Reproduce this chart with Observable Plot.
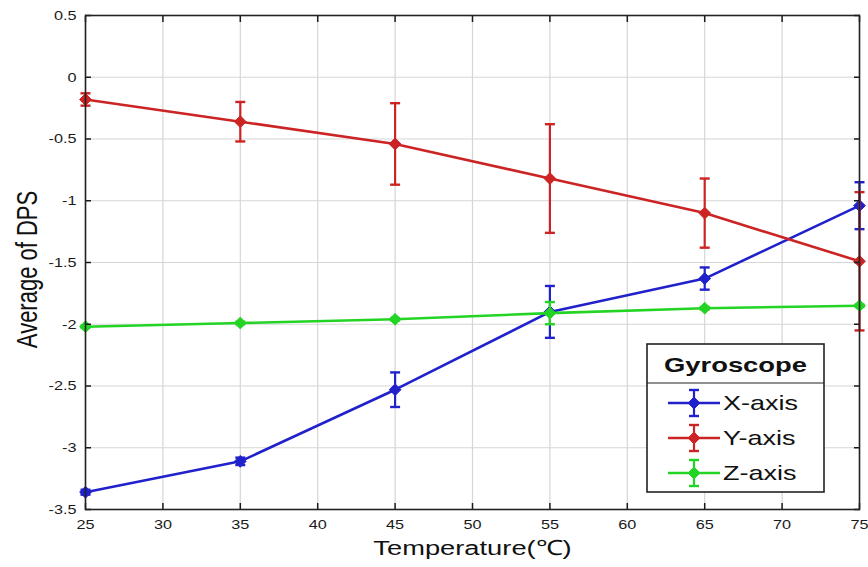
<!DOCTYPE html>
<html><head><meta charset="utf-8">
<script src="https://cdn.jsdelivr.net/npm/d3@7"></script>
<script src="https://cdn.jsdelivr.net/npm/@observablehq/plot@0.6"></script>
<style>
html,body{margin:0;padding:0;background:#fff;}
#wrap{position:relative;width:868px;height:567px;}
</style></head><body><div id="wrap"></div>
<script>
const temperatures = [25, 35, 45, 55, 65, 75];
const seriesNames = ["X-axis", "Y-axis", "Z-axis"];
const seriesColors = ["#2121cc", "#cc2424", "#24d424"];
const xMean = [-3.36, -3.11, -2.53, -1.90, -1.63, -1.04];
const xErr  = [0.02, 0.03, 0.14, 0.21, 0.09, 0.19];
const yMean = [-0.18, -0.36, -0.54, -0.82, -1.10, -1.49];
const yErr  = [0.05, 0.16, 0.33, 0.44, 0.28, 0.56];
const zMean = [-2.02, -1.99, -1.96, -1.91, -1.87, -1.85];
const zErr  = [0.01, 0.01, 0.01, 0.09, 0.01, 0.01];
const xTicks = [25, 30, 35, 40, 45, 50, 55, 60, 65, 70, 75];
const yTicks = [-3.5, -3, -2.5, -2, -1.5, -1, -0.5, 0, 0.5];
const xLabel = "Temperature(℃)";
const yLabel = "Average of DPS";
const legendTitle = "Gyroscope";

const means = [xMean, yMean, zMean];
const errs = [xErr, yErr, zErr];
const rows = seriesNames.flatMap((s, i) => temperatures.map((t, j) => ({
  series: s, t, mean: means[i][j], lo: means[i][j] - errs[i][j], hi: means[i][j] + errs[i][j]
})));

const capSymbol = {draw(ctx, size) { const r = Math.sqrt(size / Math.PI); ctx.moveTo(-r, 0); ctx.lineTo(r, 0); }};
const diamondSym = d3.symbolDiamond2 || d3.symbolDiamond;

const seriesMarks = seriesNames.flatMap((s, i) => {
  const d = rows.filter(r => r.series === s);
  const c = seriesColors[i];
  return [
    Plot.line(d, {x: "t", y: "mean", stroke: c, strokeWidth: 2.6}),
    Plot.ruleX(d, {x: "t", y1: "lo", y2: "hi", stroke: c, strokeWidth: 2.2}),
    Plot.dot(d, {x: "t", y: "lo", symbol: capSymbol, r: 5, stroke: c, fill: "none", strokeWidth: 2.4}),
    Plot.dot(d, {x: "t", y: "hi", symbol: capSymbol, r: 5, stroke: c, fill: "none", strokeWidth: 2.4}),
    Plot.dot(d, {x: "t", y: "mean", symbol: diamondSym, r: 5.3, fill: c, stroke: c, strokeWidth: 1})
  ];
});

const svg = Plot.plot({
  width: 868, height: 567,
  marginLeft: 85, marginRight: 9, marginTop: 15, marginBottom: 58,
  style: {background: "#fff", color: "#1a1a1a", fontFamily: "'Liberation Sans', Arial, sans-serif", fontSize: "12.5px"},
  x: {domain: [25, 75]},
  y: {domain: [-3.5, 0.5]},
  marks: [
    Plot.gridX(xTicks, {stroke: "#d6d6d6", strokeOpacity: 1, strokeWidth: 1.2}),
    Plot.gridY(yTicks, {stroke: "#d6d6d6", strokeOpacity: 1, strokeWidth: 1.2}),
    ...seriesMarks,
    Plot.axisX(xTicks, {anchor: "bottom", tickSize: -6, tickPadding: 16, tickFormat: d => String(d), label: null, strokeWidth: 1.5}),
    Plot.axisX(xTicks, {anchor: "top", tickSize: -6, tickFormat: () => "", label: null, strokeWidth: 1.5}),
    Plot.axisY(yTicks, {anchor: "left", tickSize: -6, tickPadding: 15, tickFormat: d => String(d), label: null, strokeWidth: 1.5}),
    Plot.axisY(yTicks, {anchor: "right", tickSize: -6, tickFormat: () => "", label: null, strokeWidth: 1.5}),
    Plot.frame({stroke: "#222", strokeWidth: 1.6}),
    Plot.text([xLabel], {text: d => d, frameAnchor: "bottom", dy: 39, textAnchor: "middle", lineAnchor: "middle", fontSize: 21, fill: "#111"}),
    Plot.text([yLabel], {text: d => d, frameAnchor: "left", dx: -58, dy: 7, rotate: -90, textAnchor: "middle", lineAnchor: "middle", fontSize: 22, fill: "#111"})
  ]
});

document.getElementById("wrap").appendChild(svg);

// the reference image is horizontally stretched; mimic it on the text,
// keeping each label's anchor point where the library placed it
d3.select(svg).selectAll("text").each(function() {
  if (!this.textContent) return;
  const t = this.getAttribute("transform") || "";
  const rotated = /rotate/.test(t);
  const anchor = rotated ? "middle" : getComputedStyle(this).textAnchor;
  const sc = rotated ? " scale(1,1.3)" : " scale(1.3,1)";
  const b0 = this.getBoundingClientRect();
  this.setAttribute("transform", t + sc);
  const b1 = this.getBoundingClientRect();
  let dx, dy = (b0.top + b0.bottom) / 2 - (b1.top + b1.bottom) / 2;
  if (anchor === "end") dx = b0.right - b1.right;
  else if (anchor === "start") dx = b0.left - b1.left;
  else dx = (b0.left + b0.right) / 2 - (b1.left + b1.right) / 2;
  this.setAttribute("transform", `translate(${dx},${dy}) ` + t + sc);
});

// legend
const g = d3.select(svg).append("g").attr("transform", "translate(647,344)")
  .attr("font-family", "'Liberation Sans', Arial, sans-serif");
g.append("rect").attr("x", 0).attr("y", 0).attr("width", 177).attr("height", 148)
  .attr("fill", "#fff").attr("stroke", "#222").attr("stroke-width", 1.6);
g.append("line").attr("x1", 0).attr("x2", 177).attr("y1", 39).attr("y2", 39)
  .attr("stroke", "#222").attr("stroke-width", 1.2);
g.append("text").attr("transform", "translate(88.5,21) scale(1.37,1)")
  .attr("text-anchor", "middle").attr("dy", "0.35em")
  .attr("font-weight", "bold").attr("font-size", 20).attr("fill", "#111").text(legendTitle);
seriesNames.forEach((s, i) => {
  const cy = 59 + 35 * i, c = seriesColors[i];
  const e = g.append("g").attr("transform", `translate(0,${cy})`);
  e.append("line").attr("x1", 21).attr("x2", 73).attr("y1", 0).attr("y2", 0).attr("stroke", c).attr("stroke-width", 2.6);
  e.append("line").attr("x1", 47).attr("x2", 47).attr("y1", -13).attr("y2", 13).attr("stroke", c).attr("stroke-width", 2.2);
  e.append("line").attr("x1", 42).attr("x2", 52).attr("y1", -13).attr("y2", -13).attr("stroke", c).attr("stroke-width", 2.4);
  e.append("line").attr("x1", 42).attr("x2", 52).attr("y1", 13).attr("y2", 13).attr("stroke", c).attr("stroke-width", 2.4);
  e.append("path").attr("transform", "translate(47,0)").attr("d", d3.symbol(diamondSym, Math.PI * 5.3 * 5.3)())
    .attr("fill", c).attr("stroke", c);
  e.append("text").attr("transform", "translate(76,0) scale(1.35,1)").attr("dy", "0.35em")
    .attr("text-anchor", "start")
    .attr("font-size", 20).attr("fill", "#111").text(s);
});
</script></body></html>
